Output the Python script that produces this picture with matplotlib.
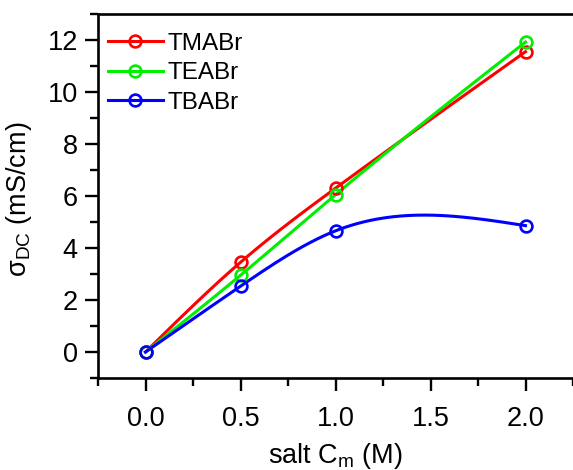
import numpy as np
import matplotlib
matplotlib.use("Agg")
import matplotlib.pyplot as plt
from matplotlib.lines import Line2D
from matplotlib.ticker import MultipleLocator, FormatStrFormatter

plt.rcParams['font.family'] = ['Liberation Sans', 'DejaVu Sans']
plt.rcParams['mathtext.fontset'] = 'custom'
plt.rcParams['mathtext.rm'] = 'Liberation Sans'
plt.rcParams['mathtext.it'] = 'Liberation Sans:italic'

# salt concentration (M) and DC conductivity (mS/cm)
conc = [0.0, 0.5, 1.0, 2.0]
tmabr = [0.0, 3.45, 6.30, 11.55]
teabr = [0.0, 2.95, 6.05, 11.92]
tbabr = [0.0, 2.53, 4.66, 4.86]

series = [("TMABr", tmabr, "#ff0000"),
          ("TEABr", teabr, "#00ee00"),
          ("TBABr", tbabr, "#0000ff")]


def natural_spline(x, y, xs):
    x = np.asarray(x, float)
    y = np.asarray(y, float)
    n = len(x)
    h = np.diff(x)
    A = np.zeros((n, n))
    b = np.zeros(n)
    A[0, 0] = 1.0
    A[-1, -1] = 1.0
    for i in range(1, n - 1):
        A[i, i - 1] = h[i - 1]
        A[i, i] = 2 * (h[i - 1] + h[i])
        A[i, i + 1] = h[i]
        b[i] = 6 * ((y[i + 1] - y[i]) / h[i] - (y[i] - y[i - 1]) / h[i - 1])
    M = np.linalg.solve(A, b)
    out = np.empty_like(xs)
    for k, xv in enumerate(xs):
        i = min(max(np.searchsorted(x, xv) - 1, 0), n - 2)
        hi = h[i]
        a = x[i + 1] - xv
        c = xv - x[i]
        out[k] = (M[i] * a ** 3 + M[i + 1] * c ** 3) / (6 * hi) \
            + (y[i] / hi - M[i] * hi / 6) * a + (y[i + 1] / hi - M[i + 1] * hi / 6) * c
    return out


W, H = 573, 470
fig = plt.figure(figsize=(W / 100, H / 100), dpi=100)
# axes run past the right edge of the figure
ax = fig.add_axes([98 / W, 92 / H, 503.5 / W, 364 / H])

LW, MS, MEW = 2.2, 8.5, 1.9
xs = np.linspace(conc[0], conc[-1], 300)
handles = []
for name, vals, col in series:
    ax.plot(xs, natural_spline(conc, vals, xs), color=col, lw=LW, zorder=2)
    ax.plot(conc, vals, linestyle='none', marker='o', ms=MS, mfc='none',
            mec=col, mew=MEW, zorder=3)
    handles.append(Line2D([], [], color=col, lw=LW, marker='o', ms=MS,
                          mfc='none', mec=col, mew=MEW, label=name))

ax.set_xlim(-0.25, 2.4)
ax.set_ylim(-1, 13)
ax.xaxis.set_major_locator(MultipleLocator(0.5))
ax.xaxis.set_minor_locator(MultipleLocator(0.25))
ax.yaxis.set_major_locator(MultipleLocator(2))
ax.yaxis.set_minor_locator(MultipleLocator(1))
ax.xaxis.set_major_formatter(FormatStrFormatter('%.1f'))
ax.yaxis.set_major_formatter(FormatStrFormatter('%d'))

for s in ax.spines.values():
    s.set_linewidth(1.9)
ax.spines['right'].set_visible(False)
ax.tick_params(which='major', direction='out', length=9.5, width=1.7,
               labelsize=19.5)
ax.tick_params(axis='x', which='major', pad=11)
ax.tick_params(axis='y', which='major', pad=5)
ax.tick_params(which='minor', direction='out', length=5.5, width=1.7)

ax.set_xlabel('salt C$_\\mathrm{m}$ (M)', fontsize=19.5)
ax.set_ylabel('$\\mathrm{σ}_{\\mathrm{DC}}$ (mS/cm)', fontsize=19.5)
ax.xaxis.set_label_coords((335 - 98) / 503.5, -(441 - 378) / 364)
ax.yaxis.set_label_coords(-(98 - 34) / 503.5, 0.49)

ax.legend(handles=handles, loc='upper left', frameon=False, fontsize=17.5,
          handlelength=2.26, handletextpad=0.22, labelspacing=0.31,
          borderaxespad=0.0, bbox_to_anchor=(0.0, 1.0 - 9 / 364))

fig.savefig("out.png", dpi=100)
